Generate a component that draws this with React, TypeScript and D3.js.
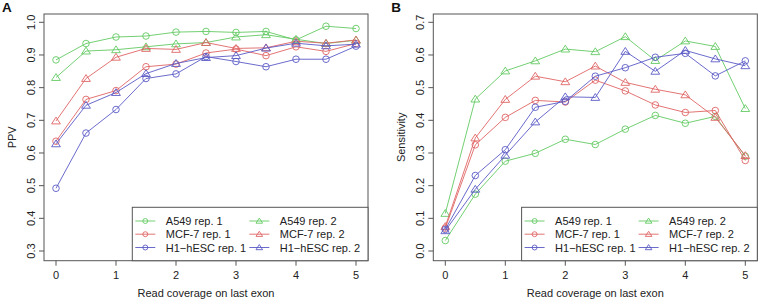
import React from "react";
import * as d3 from "d3";

const xValues = [0, 0.5, 1, 1.5, 2, 2.5, 3, 3.5, 4, 4.5, 5];
const xTicks = [0, 1, 2, 3, 4, 5];
const ppvTicks = [0.3, 0.4, 0.5, 0.6, 0.7, 0.8, 0.9, 1.0];
const sensTicks = [0.0, 0.1, 0.2, 0.3, 0.4, 0.5, 0.6, 0.7];

const seriesNames = ["A549 rep. 1", "A549 rep. 2", "MCF-7 rep. 1", "MCF-7 rep. 2", "H1\u2212hESC rep. 1", "H1\u2212hESC rep. 2"];
const seriesShapes = ["circle", "triangle", "circle", "triangle", "circle", "triangle"];
const seriesColors = ["#63c963", "#63c963", "#e06464", "#e06464", "#5a5ac6", "#5a5ac6"];

const ppvA549r1 = [0.885, 0.935, 0.955, 0.958, 0.970, 0.972, 0.969, 0.972, 0.946, 0.988, 0.981];
const ppvA549r2 = [0.831, 0.912, 0.916, 0.925, 0.934, 0.938, 0.955, 0.962, 0.948, 0.935, 0.945];
const ppvMCF7r1 = [0.636, 0.764, 0.791, 0.864, 0.872, 0.906, 0.918, 0.898, 0.925, 0.911, 0.935];
const ppvMCF7r2 = [0.698, 0.828, 0.893, 0.920, 0.917, 0.938, 0.920, 0.922, 0.942, 0.936, 0.946];
const ppvH1r1 = [0.492, 0.661, 0.733, 0.828, 0.842, 0.895, 0.880, 0.864, 0.887, 0.887, 0.927];
const ppvH1r2 = [0.628, 0.746, 0.785, 0.843, 0.874, 0.892, 0.898, 0.921, 0.936, 0.928, 0.933];

const sensA549r1 = [0.032, 0.174, 0.275, 0.299, 0.342, 0.326, 0.373, 0.415, 0.391, 0.412, 0.290];
const sensA549r2 = [0.115, 0.465, 0.551, 0.582, 0.618, 0.610, 0.656, 0.583, 0.643, 0.626, 0.436];
const sensMCF7r1 = [0.070, 0.325, 0.409, 0.461, 0.456, 0.523, 0.490, 0.447, 0.424, 0.430, 0.277];
const sensMCF7r2 = [0.075, 0.346, 0.464, 0.535, 0.518, 0.566, 0.516, 0.495, 0.478, 0.409, 0.292];
const sensH1r1 = [0.066, 0.231, 0.310, 0.440, 0.458, 0.535, 0.561, 0.593, 0.605, 0.536, 0.582];
const sensH1r2 = [0.062, 0.189, 0.293, 0.395, 0.472, 0.470, 0.611, 0.550, 0.614, 0.588, 0.567];

const ppvSeries = [ppvA549r1, ppvA549r2, ppvMCF7r1, ppvMCF7r2, ppvH1r1, ppvH1r2];
const sensSeries = [sensA549r1, sensA549r2, sensMCF7r1, sensMCF7r2, sensH1r1, sensH1r2];

const FONT = "'Liberation Sans', Arial, Helvetica, sans-serif";
const TXT = "#222";
const AXC = "#555";

function Marker({ shape, cx, cy, color, size = 1 }) {
  if (shape === "circle") {
    return <circle cx={cx} cy={cy} r={3.3 * size} fill="none" stroke={color} strokeWidth={0.9} />;
  }
  const h = 3.9 * size;
  const w = 4.4 * size;
  const p = `M${cx},${cy - h} L${cx + w},${cy + h * 0.75} L${cx - w},${cy + h * 0.75} Z`;
  return <path d={p} fill="none" stroke={color} strokeWidth={0.9} />;
}

function Panel({ left, label, yLabel, yTicks, yDomain, series, tickFmt }) {
  const boxL = left;
  const boxR = left + 324;
  const boxT = 14;
  const boxB = 260.7;
  const x = d3.scaleLinear().domain([-0.2, 5.2]).range([boxL, boxR]);
  const y = d3.scaleLinear().domain(yDomain).range([251, 22.3]);
  const line = d3.line<number>().x((_, i) => x(xValues[i])).y((v) => y(v));
  const legL = boxL + 88.3;
  const legT = 207.3;
  const rowY = [221, 234.2, 247.5];
  const col1 = legL;
  const col2 = legL + 114;
  return (
    <g>
      <text x={left - 42} y={12} fontFamily={FONT} fontWeight="bold" fontSize={13.5} fill="#111">{label}</text>
      {series.map((s, k) => (
        <g key={k}>
          <path d={line(s) || ""} fill="none" stroke={seriesColors[k]} strokeWidth={0.9} />
          {s.map((v, i) => (
            <Marker key={i} shape={seriesShapes[k]} cx={x(xValues[i])} cy={y(v)} color={seriesColors[k]} />
          ))}
        </g>
      ))}
      <rect x={boxL} y={boxT} width={boxR - boxL} height={boxB - boxT} fill="none" stroke={AXC} strokeWidth={1} />
      {yTicks.map((t) => (
        <g key={t}>
          <line x1={boxL - 5} x2={boxL} y1={y(t)} y2={y(t)} stroke={AXC} />
          <text transform={`translate(${boxL - 9.5},${y(t)}) rotate(-90)`} textAnchor="middle" fontFamily={FONT} fontSize={11} fill={TXT}>{tickFmt(t)}</text>
        </g>
      ))}
      {xTicks.map((t) => (
        <g key={t}>
          <line x1={x(t)} x2={x(t)} y1={boxB} y2={boxB + 5} stroke={AXC} />
          <text x={x(t)} y={278.5} textAnchor="middle" fontFamily={FONT} fontSize={11} fill={TXT}>{t}</text>
        </g>
      ))}
      <text x={(boxL + boxR) / 2} y={297} textAnchor="middle" fontFamily={FONT} fontSize={11} fill={TXT}>Read coverage on last exon</text>
      <text transform={`translate(${boxL - 28.5},${(boxT + boxB) / 2}) rotate(-90)`} textAnchor="middle" fontFamily={FONT} fontSize={11} fill={TXT}>{yLabel}</text>
      <rect x={legL} y={legT} width={boxR - legL} height={boxB - legT} fill="white" stroke={AXC} strokeWidth={1} />
      {seriesNames.map((n, k) => {
        const cx = k % 2 === 0 ? col1 : col2;
        const cy = rowY[Math.floor(k / 2)];
        return (
          <g key={n}>
            <line x1={cx + 3} x2={cx + 23} y1={cy} y2={cy} stroke={seriesColors[k]} strokeWidth={0.9} />
            <Marker shape={seriesShapes[k]} cx={cx + 13} cy={cy} color={seriesColors[k]} size={0.75} />
            <text x={cx + 33.5} y={cy + 4} fontFamily={FONT} fontSize={11} fill={TXT}>{n}</text>
          </g>
        );
      })}
    </g>
  );
}

export default function App() {
  return (
    <svg width={760} height={302} style={{ position: "absolute", left: 0, top: 0, background: "white" }}>
      <rect width={760} height={302} fill="white" />
      <Panel left={44} label="A" yLabel="PPV" yTicks={ppvTicks} yDomain={[0.3, 1.0]} series={ppvSeries} tickFmt={(t) => t.toFixed(1)} />
      <Panel left={433.3} label="B" yLabel="Sensitivity" yTicks={sensTicks} yDomain={[0.0, 0.7]} series={sensSeries} tickFmt={(t) => t.toFixed(1)} />
    </svg>
  );
}
